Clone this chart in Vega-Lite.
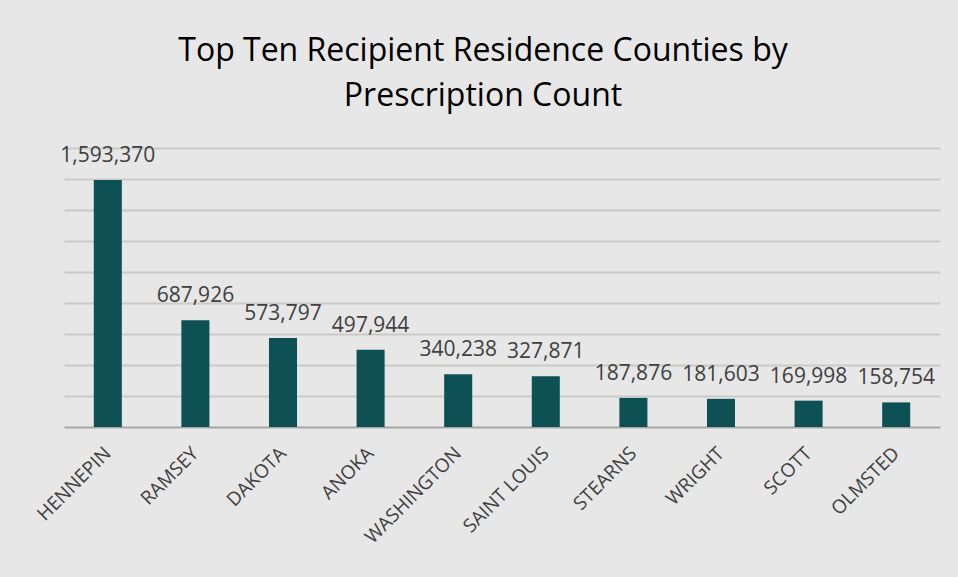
{
  "$schema": "https://vega.github.io/schema/vega-lite/v6.json",
  "width": 876,
  "height": 279,
  "autosize": {"type": "none"},
  "padding": {"left": 64, "top": 148, "right": 18, "bottom": 150},
  "background": "#e7e7e7",
  "title": {
    "text": ["Top Ten Recipient Residence Counties by", "Prescription Count"],
    "anchor": "middle",
    "frame": "group",
    "dx": -19,
    "offset": 32,
    "font": "Open Sans",
    "fontSize": 32,
    "fontWeight": "normal",
    "color": "#000000",
    "lineHeight": 45
  },
  "data": {
    "values": [
      {"county": "HENNEPIN", "count": 1593370},
      {"county": "RAMSEY", "count": 687926},
      {"county": "DAKOTA", "count": 573797},
      {"county": "ANOKA", "count": 497944},
      {"county": "WASHINGTON", "count": 340238},
      {"county": "SAINT LOUIS", "count": 327871},
      {"county": "STEARNS", "count": 187876},
      {"county": "WRIGHT", "count": 181603},
      {"county": "SCOTT", "count": 169998},
      {"county": "OLMSTED", "count": 158754}
    ]
  },
  "encoding": {
    "x": {
      "field": "county",
      "type": "nominal",
      "sort": null,
      "scale": {"paddingInner": 0.68, "paddingOuter": 0.34},
      "axis": {
        "title": null,
        "labelAngle": -45,
        "labelAlign": "right",
        "labelBaseline": "middle",
        "labelPadding": 23,
        "labelFont": "Open Sans",
        "labelFontSize": 19,
        "labelColor": "#404040",
        "ticks": false,
        "domainColor": "#a6a6a6",
        "domainWidth": 2
      }
    },
    "y": {
      "field": "count",
      "type": "quantitative",
      "scale": {"domain": [0, 1800000], "nice": false},
      "axis": {
        "title": null,
        "labels": false,
        "ticks": false,
        "domain": false,
        "values": [200000, 400000, 600000, 800000, 1000000, 1200000, 1400000, 1600000, 1800000],
        "gridColor": "#cacac6",
        "gridWidth": 2
      }
    }
  },
  "layer": [
    {"mark": {"type": "bar", "color": "#0e5155"}},
    {
      "mark": {"type": "text", "baseline": "bottom", "dy": -14, "font": "Open Sans", "fontSize": 21, "color": "#404040"},
      "encoding": {"text": {"field": "count", "type": "quantitative", "format": ",.0f"}}
    }
  ],
  "config": {"view": {"stroke": null}}
}
